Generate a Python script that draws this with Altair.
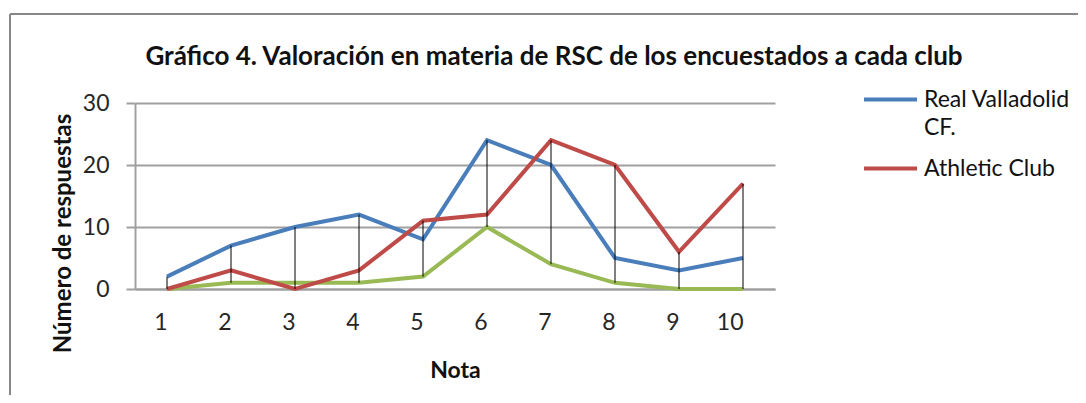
import altair as alt
import pandas as pd

notas = [1, 2, 3, 4, 5, 6, 7, 8, 9, 10]
real_valladolid = [2, 7, 10, 12, 8, 24, 20, 5, 3, 5]
athletic_club = [0, 3, 0, 3, 11, 12, 24, 20, 6, 17]
tercera_serie = [0, 1, 1, 1, 2, 10, 4, 1, 0, 0]
series_names = ["Real Valladolid CF.", "Athletic Club"]
series_colors = ["#4A7EBB", "#BE4B48"]
green = "#98B954"

rows = []
for n, a in zip(notas, real_valladolid):
    rows.append({"Nota": n, "valor": a, "serie": series_names[0]})
for n, b in zip(notas, athletic_club):
    rows.append({"Nota": n, "valor": b, "serie": series_names[1]})
df_main = pd.DataFrame(rows)
df_green = pd.DataFrame({"Nota": notas, "valor": tercera_serie})
df_hl = pd.DataFrame({
    "Nota": notas,
    "hi": [max(a, b, c) for a, b, c in zip(real_valladolid, athletic_club, tercera_serie)],
    "lo": [min(a, b, c) for a, b, c in zip(real_valladolid, athletic_club, tercera_serie)],
})

FONT = "Lato"
x_enc = alt.X("Nota:O", scale=alt.Scale(type="point", padding=0.5),
              axis=alt.Axis(title="Nota", labelAngle=0, ticks=False, labelPadding=33,
                            labelFontSize=23, titleFontSize=23, titleFontWeight="bold",
                            titlePadding=25, domainColor="#A0A0A0", domainWidth=2,
                            labelColor="#262626", titleColor="#111111", grid=False))
y_scale = alt.Scale(domain=[0, 30], nice=False)
y_axis = alt.Axis(title="Número de respuestas", values=[0, 10, 20, 30], tickSize=9,
                  tickColor="#A0A0A0", tickWidth=2, gridColor="#A0A0A0", gridWidth=2,
                  domainColor="#A0A0A0", domainWidth=2, labelFontSize=23, labelPadding=17,
                  titleFontSize=24, titleFontWeight="bold", titleX=-72, titleY=130,
                  titleBaseline="middle", titleAlign="center", titleAngle=-90,
                  labelColor="#262626", titleColor="#111111")

main = alt.Chart(df_main).mark_line(strokeWidth=4).encode(
    x=x_enc,
    y=alt.Y("valor:Q", scale=y_scale, axis=y_axis),
    color=alt.Color("serie:N", sort=series_names,
                    scale=alt.Scale(domain=series_names, range=series_colors),
                    legend=alt.Legend(title=None, orient="none", legendX=727, legendY=-32,
                                      symbolType="stroke", symbolSize=2809, symbolStrokeWidth=4,
                                      labelFontSize=23, labelLimit=400, rowPadding=0,
                                      labelOffset=5, labelColor="#111111",
                                      labelExpr="datum.label == 'Real Valladolid CF.' ? ['Real Valladolid', 'CF.'] : datum.label")),
)
green_line = alt.Chart(df_green).mark_line(strokeWidth=4, color=green).encode(
    x="Nota:O", y="valor:Q")
hilo = alt.Chart(df_hl).mark_rule(color="black", strokeWidth=1).encode(
    x="Nota:O", y="hi:Q", y2="lo:Q")

border_v = alt.Chart(df_green).mark_rule(color="#888888", strokeWidth=2).encode(
    x=alt.value(-125), y=alt.value(-89), y2=alt.value(400))
border_h = alt.Chart(df_green).mark_rule(color="#888888", strokeWidth=2).encode(
    x=alt.value(-125), x2=alt.value(1000), y=alt.value(-89))

chart = alt.layer(green_line, main, hilo, border_v, border_h).properties(
    width=640, height=186,
    title=alt.TitleParams("Gráfico 4. Valoración en materia de RSC de los encuestados a cada club",
                          fontSize=26, fontWeight="bold", font=FONT, anchor="middle",
                          frame="group", baseline="alphabetic",
                          dx=99, dy=78, offset=0, color="#111111"),
    autosize=alt.AutoSizeParams(type="none"),
    padding={"left": 127, "top": 95, "right": 303, "bottom": 106},
).configure(font=FONT, style={"guide-label": {"lineHeight": 28}}).configure_view(
    stroke=None).configure_legend(labelFont=FONT)

chart.save("out.html", embed_options={"renderer": "svg", "actions": False})
